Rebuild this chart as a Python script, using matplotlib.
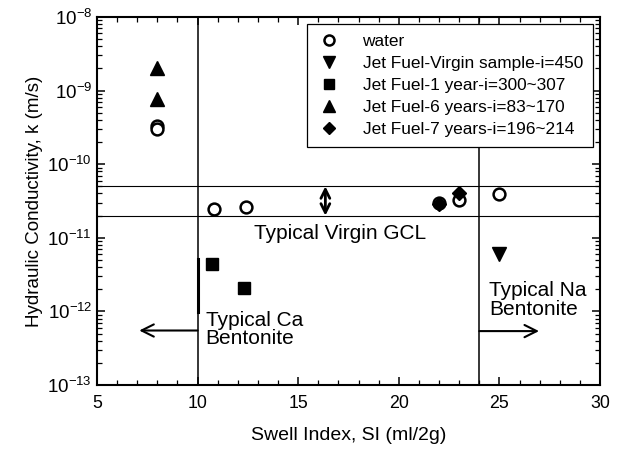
import matplotlib
matplotlib.use('Agg')
import matplotlib.pyplot as plt
from matplotlib.ticker import MultipleLocator, LogLocator, NullFormatter

plt.rcParams['font.family'] = ['Liberation Sans', 'DejaVu Sans']
plt.rcParams['mathtext.fontset'] = 'custom'
plt.rcParams['mathtext.rm'] = 'Liberation Sans'
plt.rcParams['mathtext.default'] = 'regular'

# data
water_si = [8, 8, 10.8, 12.4, 22, 23, 25]
water_k = [3.3e-10, 3.0e-10, 2.5e-11, 2.65e-11, 3.0e-11, 3.3e-11, 3.9e-11]
virgin_si = [25]
virgin_k = [6.1e-12]
y1_si = [10.7, 12.3]
y1_k = [4.4e-12, 2.05e-12]
y6_si = [8, 8]
y6_k = [2.0e-9, 7.8e-10]
y7_si = [22, 23]
y7_k = [2.9e-11, 4.0e-11]

labels = ['water', 'Jet Fuel-Virgin sample-i=450', 'Jet Fuel-1 year-i=300~307',
          'Jet Fuel-6 years-i=83~170', 'Jet Fuel-7 years-i=196~214']

gcl_band = (2e-11, 5e-11)
si_limits = (10, 24)

fig = plt.figure(figsize=(6.22, 4.57), dpi=100)
ax = fig.add_axes([97 / 622, 1 - 385 / 457, 503 / 622, 368 / 457])

ax.set_xlim(5, 30)
ax.set_ylim(1e-13, 1e-8)
ax.set_yscale('log')

# reference lines
for k in gcl_band:
    ax.axhline(k, color='black', lw=0.8)
for s in si_limits:
    ax.axvline(s, color='black', lw=1.1)
ax.plot([10, 10], [5.1e-12, 0.98e-12], color='black', lw=2.2)

ax.plot(water_si, water_k, 'o', mfc='white', mec='black', mew=1.8, ms=8.5, ls='none', label=labels[0])
ax.plot(virgin_si, virgin_k, 'v', color='black', ms=9.5, ls='none', label=labels[1])
ax.plot(y1_si, y1_k, 's', color='black', ms=8, ls='none', label=labels[2])
ax.plot(y6_si, y6_k, '^', color='black', ms=9.5, ls='none', label=labels[3])
ax.plot(y7_si, y7_k, 'D', color='black', ms=7.5, ls='none', label=labels[4])

# arrows
ax.annotate('', xy=(16.35, 2e-11), xytext=(16.35, 5e-11),
            arrowprops=dict(arrowstyle='<->', lw=2, color='black', mutation_scale=16, shrinkA=0, shrinkB=0))
ax.annotate('', xy=(7.1, 5.5e-13), xytext=(10, 5.5e-13),
            arrowprops=dict(arrowstyle='->', lw=1.5, color='black', mutation_scale=22, shrinkA=0, shrinkB=0))
ax.annotate('', xy=(26.97, 5.4e-13), xytext=(24, 5.4e-13),
            arrowprops=dict(arrowstyle='->', lw=1.5, color='black', mutation_scale=22, shrinkA=0, shrinkB=0))

ax.text(17.08, 1.13e-11, 'Typical Virgin GCL', ha='center', va='center', fontsize=15)
ax.text(10.4, 1.02e-12, 'Typical Ca\nBentonite', ha='left', va='top', fontsize=15, linespacing=0.95)
ax.text(24.5, 2.55e-12, 'Typical Na\nBentonite', ha='left', va='top', fontsize=15, linespacing=0.95)

ax.set_xlabel('Swell Index, SI (ml/2g)', fontsize=14, labelpad=11)
ax.set_ylabel('Hydraulic Conductivity, k (m/s)', fontsize=13.5, labelpad=3)

ax.xaxis.set_major_locator(MultipleLocator(5))
ax.xaxis.set_minor_locator(MultipleLocator(1))
ax.yaxis.set_major_locator(LogLocator(base=10, numticks=10))
ax.yaxis.set_minor_locator(LogLocator(base=10, subs=range(2, 10), numticks=20))
ax.yaxis.set_minor_formatter(NullFormatter())
ax.tick_params(which='both', direction='in', top=True, right=True, labelsize=12.8)
ax.tick_params(axis='y', labelsize=13.5)
ax.tick_params(axis='x', pad=7)
ax.tick_params(which='major', length=6, width=1.1)
ax.tick_params(which='minor', length=3.5, width=0.9)
for sp in ax.spines.values():
    sp.set_linewidth(1.5)

leg = ax.legend(loc='upper right', fontsize=12.4, frameon=True, fancybox=False,
                edgecolor='black', framealpha=1, labelspacing=0.4,
                handlelength=1.4, handletextpad=1.25, borderpad=0.6,
                borderaxespad=0.4, markerscale=0.85)
leg.get_frame().set_linewidth(0.9)

fig.savefig('out.png', dpi=100)
